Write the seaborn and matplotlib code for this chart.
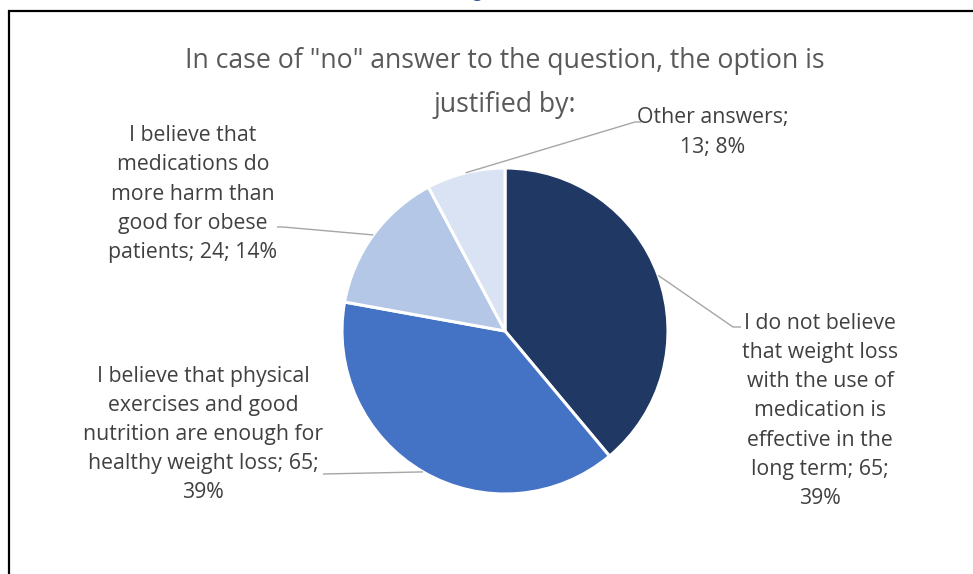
import matplotlib
matplotlib.use("Agg")
import matplotlib.pyplot as plt
import seaborn as sns
import numpy as np

# Survey answers (clockwise from 12 o'clock)
categories = [
    "I do not believe\nthat weight loss\nwith the use of\nmedication is\neffective in the\nlong term",
    "I believe that physical\nexercises and good\nnutrition are enough for\nhealthy weight loss",
    "I believe that\nmedications do\nmore harm than\ngood for obese\npatients",
    "Other answers",
]
counts = [65, 65, 24, 13]
colors = ["#203864", "#4472C4", "#B4C7E7", "#DAE3F3"]
title_lines = ['In case of "no" answer to the question, the option is',
               "justified by:"]

# label wrapping: separator before the count and before the percentage
sep_count = [" ", " ", " ", "\n"]
sep_pct = ["\n", "\n", " ", " "]

W, H = 973, 574
sns.set_theme(style="white")
plt.rcParams["font.family"] = ["Open Sans", "DejaVu Sans"]

fig = plt.figure(figsize=(W / 100, H / 100), dpi=100)
ax = fig.add_axes([0, 0, 1, 1])


def Y(py):
    return H - py


cx, cy, r = 505, Y(331), 163
wedges, _ = ax.pie(
    counts, colors=colors, startangle=90, counterclock=False,
    center=(cx, cy), radius=r,
    wedgeprops=dict(edgecolor="white", linewidth=2.2),
)
ax.set_xlim(0, W)
ax.set_ylim(0, H)
ax.set_aspect("equal")
ax.axis("off")

total = sum(counts)
pcts = [round(100 * c / total) for c in counts]
labels = [f"{cat};{s1}{n};{s2}{p}%" for cat, n, p, s1, s2
          in zip(categories, counts, pcts, sep_count, sep_pct)]

# label block centres and leader-line paths (pixel layout)
label_pos = [(820, 411), (203, 434.5), (193, 194), (713, 132.5)]
leader_tail = [
    [(733, 327), (741, 327)],
    [(323, 474)],
    [(283, 227), (277, 227)],
    [(635, 122), (641, 122)],
]

text_color = "#404040"
for w, lab, (lx, ly), tail in zip(wedges, labels, label_pos, leader_tail):
    mid = np.deg2rad((w.theta1 + w.theta2) / 2)
    ex, ey = cx + r * np.cos(mid), cy + r * np.sin(mid)
    xs = [ex] + [p[0] for p in tail]
    ys = [ey] + [Y(p[1]) for p in tail]
    ax.plot(xs, ys, color="#A6A6A6", linewidth=1.0, solid_capstyle="butt")
    ax.text(lx, Y(ly), lab, ha="center", va="center", fontsize=15.3,
            color=text_color, linespacing=1.51, multialignment="center")

# two-line chart title
for line, base in zip(title_lines, [68, 112]):
    ax.text(505, Y(base), line, ha="center", va="baseline", fontsize=19.2,
            color="#595959")

# frame lines of the surrounding table cell
ax.plot([8.5, 8.5], [0, Y(10)], color="black", linewidth=1.6, solid_capstyle="butt")
ax.plot([7.7, W], [Y(11), Y(11)], color="black", linewidth=1.6, solid_capstyle="butt")
ax.text(477, Y(-3), "g", ha="center", va="baseline", fontsize=12,
        color="#2F5597")

fig.savefig("out.png", dpi=100)
